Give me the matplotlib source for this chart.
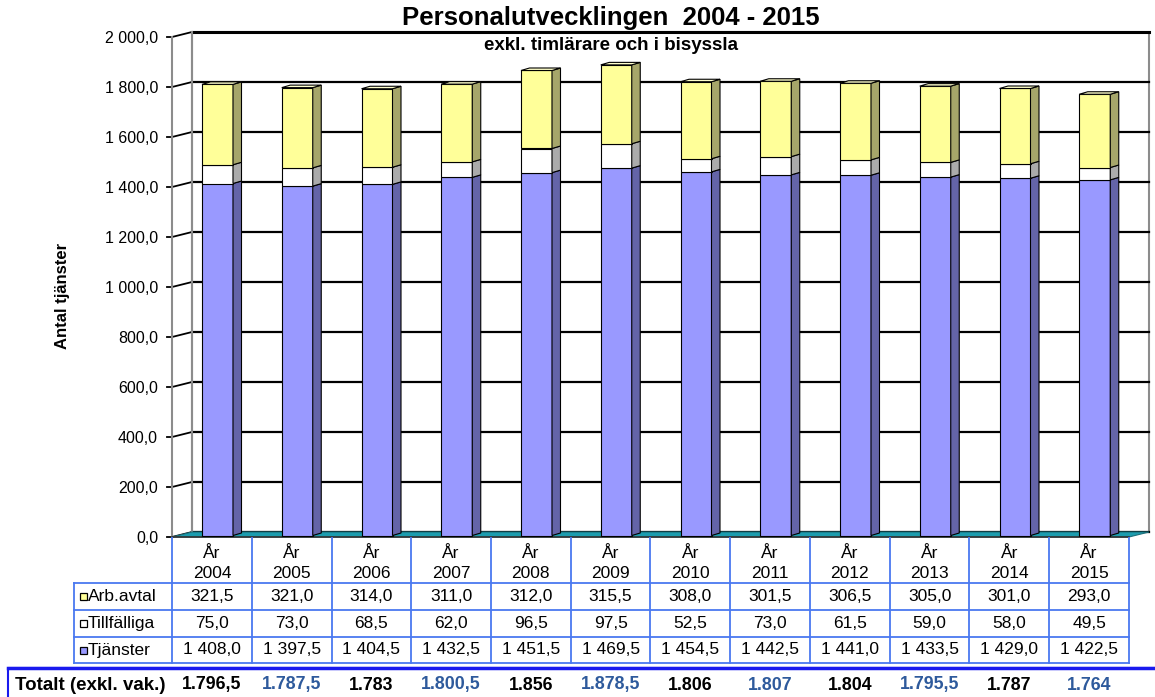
import matplotlib
matplotlib.use("Agg")
import matplotlib.pyplot as plt
from matplotlib.patches import Polygon, Rectangle

plt.rcParams['font.family'] = ['Liberation Sans', 'DejaVu Sans']

# --- data ---
years = [2004, 2005, 2006, 2007, 2008, 2009, 2010, 2011, 2012, 2013, 2014, 2015]
tjanster = [1408.0, 1397.5, 1404.5, 1432.5, 1451.5, 1469.5, 1454.5, 1442.5, 1441.0, 1433.5, 1429.0, 1422.5]
tillfalliga = [75.0, 73.0, 68.5, 62.0, 96.5, 97.5, 52.5, 73.0, 61.5, 59.0, 58.0, 49.5]
arb_avtal = [321.5, 321.0, 314.0, 311.0, 312.0, 315.5, 308.0, 301.5, 306.5, 305.0, 301.0, 293.0]
totalt = [1796.5, 1787.5, 1783, 1800.5, 1856, 1878.5, 1806, 1807, 1804, 1795.5, 1787, 1764]
series_names = ['Arb.avtal', 'Tillfälliga', 'Tjänster']
yticks = [0, 200, 400, 600, 800, 1000, 1200, 1400, 1600, 1800, 2000]

# colours: front, side
C_TJ = ('#9999FF', '#6464A8')
C_TI = ('#FFFFFF', '#ABABAB')
C_AR = ('#FFFF99', '#A6A66A')
TABLE_BLUE = '#4A78F0'
TOT_BLUE = '#2E5A9C'

W, H = 1155, 697
PX_X = 79.75          # pixels per category
PX_Y = 0.25           # pixels per data unit
FS_TAB = 12.5


def fmt_sv(v):
    s = f"{v:,.1f}"
    return s.replace(",", " ").replace(".", ",")


def fmt_tot(v):
    if float(v).is_integer():
        s = f"{int(v):,}".replace(",", ".")
    else:
        s = f"{v:,.1f}".replace(",", "#").replace(".", ",").replace("#", ".")
    return s


fig = plt.figure(figsize=(W / 100, H / 100), dpi=100)
ax = fig.add_axes([172 / W, (H - 537) / H, (1129 - 172) / W, 500 / H])
ax.set_xlim(0, 12)
ax.set_ylim(0, 2000)
for s in ax.spines.values():
    s.set_visible(False)
ax.set_xticks([])
ax.set_yticks(yticks, [fmt_sv(v) for v in yticks])
ax.tick_params(axis='y', length=0, pad=10, labelsize=11.5)

dx, dy = 20 / PX_X, 5 / PX_Y   # wall depth

# back wall + side wall
ax.add_patch(Polygon([(dx, dy), (12 + dx, dy), (12 + dx, 2000 + dy), (dx, 2000 + dy)],
                     closed=True, facecolor='white', edgecolor='#8C8C8C', lw=1.5,
                     clip_on=False, zorder=1))
for v in yticks:
    lw = 2.2 if v == 2000 else 1.6
    ax.plot([dx, 12 + dx], [v + dy, v + dy], color='black', lw=lw, clip_on=False, zorder=2)
    ax.plot([-5 / PX_X, 0, dx], [v, v, v + dy], color='black', lw=1.3, clip_on=False, zorder=2)
ax.plot([0, 0], [0, 2000], color='#8C8C8C', lw=1.5, clip_on=False, zorder=2)
ax.plot([dx, dx], [dy, 2000 + dy], color='#8C8C8C', lw=1.5, clip_on=False, zorder=2)

# floor
ax.add_patch(Polygon([(0, 0), (12, 0), (12 + dx, dy), (dx, dy)], closed=True,
                     facecolor='#1B9CAE', edgecolor='#1B6F7A', lw=0.8, clip_on=False, zorder=2))
ax.plot([0, 12], [0, 0], color='#333333', lw=1.2, clip_on=False, zorder=3)

# bars
bw = 31 / PX_X
bx0 = 30 / PX_X
bdx, bdy = 8.5 / PX_X, 2.5 / PX_Y
z0 = 6
for i in range(len(years)):
    x = i + bx0
    bottom = z0
    segs = [(tjanster[i], C_TJ), (tillfalliga[i], C_TI), (arb_avtal[i], C_AR)]
    for k, (val, (fc, sc)) in enumerate(segs):
        ax.bar(x, val, width=bw, bottom=bottom, align='edge', color=fc,
               edgecolor='black', linewidth=0.8, zorder=5)
        top = bottom + val
        ax.add_patch(Polygon([(x + bw, bottom), (x + bw + bdx, bottom + bdy),
                              (x + bw + bdx, top + bdy), (x + bw, top)], closed=True,
                             facecolor=sc, edgecolor='black', lw=0.8, zorder=5))
        if k == len(segs) - 1:
            ax.add_patch(Polygon([(x, top), (x + bdx, top + bdy), (x + bw + bdx, top + bdy),
                                  (x + bw, top)], closed=True, facecolor='#FFFFCC',
                                 edgecolor='black', lw=0.8, zorder=5))
        bottom = top

# titles
fig.text(611 / W, 1 - 18 / H, 'Personalutvecklingen  2004 - 2015', ha='center', va='center',
         fontsize=18.5, fontweight='bold')
fig.text(611 / W, 1 - 45 / H, 'exkl. timlärare och i bisyssla', ha='center', va='center',
         fontsize=13.5, fontweight='bold')
fig.text(63 / W, 1 - 296 / H, 'Antal tjänster', ha='center', va='center', rotation=90,
         fontsize=12, fontweight='bold')

# data table
tax = fig.add_axes([0, 0, 1, (H - 537) / H])
tax.set_xlim(-172 / PX_X, (W - 172) / PX_X)
tax.set_ylim(697, 537)
tax.axis('off')

lab_x = (74 - 172) / PX_X
rows_y = [583, 610, 637, 663]
for j in range(13):
    tax.plot([j, j], [537, 663], color=TABLE_BLUE, lw=1.3)
tax.plot([lab_x, lab_x], [583, 663], color=TABLE_BLUE, lw=1.3)
for yy in rows_y:
    tax.plot([lab_x, 12], [yy, yy], color=TABLE_BLUE, lw=1.3)

for i, yr in enumerate(years):
    tax.text(i + 0.5, 554, 'År', ha='center', va='center', fontsize=FS_TAB)
    tax.text(i + 0.5, 573, str(yr), ha='center', va='center', fontsize=FS_TAB)

row_vals = [arb_avtal, tillfalliga, tjanster]
row_cols = [C_AR[0], C_TI[0], C_TJ[0]]
for r, (name, vals, col) in enumerate(zip(series_names, row_vals, row_cols)):
    yc = (rows_y[r] + rows_y[r + 1]) / 2
    tax.add_patch(Rectangle(((80 - 172) / PX_X, yc - 3.5), 7 / PX_X, 7,
                            facecolor=col, edgecolor='black', lw=0.9))
    tax.text((88 - 172) / PX_X, yc, name, ha='left', va='center', fontsize=FS_TAB)
    for i, v in enumerate(vals):
        tax.text(i + 0.5, yc, fmt_sv(v), ha='center', va='center', fontsize=FS_TAB)

# total row
tax.add_patch(Rectangle(((8 - 172) / PX_X, 668), (W + 10 - 8) / PX_X, 40,
                        facecolor='none', edgecolor='#1A1AEE', lw=1.5, clip_on=False))
tax.plot([(8 - 172) / PX_X, (W - 172) / PX_X], [668, 668], color='#1A1AEE', lw=2.5)
tax.text((15 - 172) / PX_X, 685, 'Totalt (exkl. vak.)', ha='left', va='center',
         fontsize=13.5, fontweight='bold')
for i, v in enumerate(totalt):
    tax.text(i + 0.5, 685, fmt_tot(v), ha='center', va='center', fontsize=12.8,
             fontweight='bold', color=TOT_BLUE if i % 2 else 'black')

fig.savefig('out.png', dpi=100)
